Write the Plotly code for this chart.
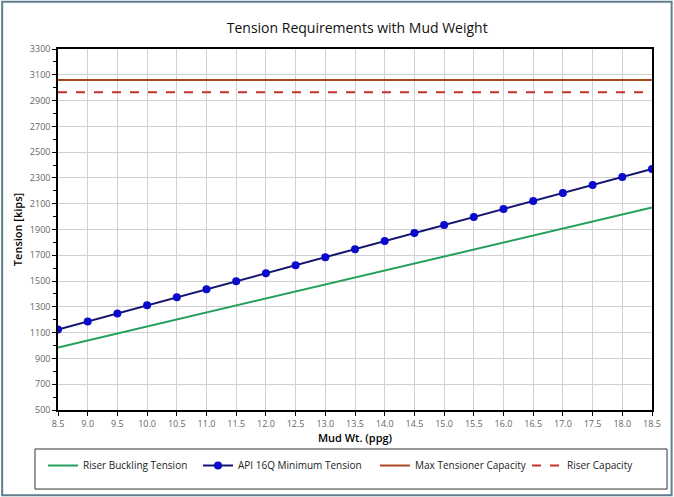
import plotly.graph_objects as go

mud_wt = [8.5, 9.0, 9.5, 10.0, 10.5, 11.0, 11.5, 12.0, 12.5, 13.0, 13.5,
          14.0, 14.5, 15.0, 15.5, 16.0, 16.5, 17.0, 17.5, 18.0, 18.5]
riser_buckling = [985, 1039, 1094, 1148, 1202, 1256, 1311, 1365, 1419, 1473, 1528,
                  1582, 1636, 1690, 1745, 1799, 1853, 1907, 1962, 2016, 2070]
api_16q_min = [1125, 1187, 1249, 1312, 1374, 1436, 1498, 1561, 1623, 1685, 1747,
               1810, 1872, 1934, 1996, 2059, 2121, 2183, 2245, 2308, 2370]
max_tensioner_x = [8.5, 18.5]
max_tensioner = [3060, 3060]
riser_capacity_x = [8.5, 18.5]
riser_capacity = [2965, 2965]

font_main = "Open Sans, Liberation Sans, sans-serif"

fig = go.Figure()
fig.add_trace(go.Scatter(x=mud_wt, y=riser_buckling, mode="lines",
                         name="Riser Buckling Tension", legend="legend",
                         line=dict(color="#24a05c", width=2)))
fig.add_trace(go.Scatter(x=mud_wt, y=api_16q_min, mode="lines+markers",
                         name="API 16Q Minimum Tension", legend="legend2",
                         line=dict(color="#14146e", width=2),
                         marker=dict(color="#0a0acc", size=8)))
fig.add_trace(go.Scatter(x=max_tensioner_x, y=max_tensioner, mode="lines",
                         name="Max Tensioner Capacity", legend="legend3",
                         line=dict(color="#a8461c", width=2)))
fig.add_trace(go.Scatter(x=riser_capacity_x, y=riser_capacity, mode="lines",
                         name="Riser Capacity", legend="legend4",
                         line=dict(color="#c8322a", width=2, dash="dash")))

leg_common = dict(orientation="h", xanchor="left", y=-0.1136, yanchor="top",
                  font=dict(size=10, color="#222"), bgcolor="rgba(0,0,0,0)",
                  itemwidth=30)

fig.update_layout(
    width=674, height=497,
    margin=dict(l=58, r=22, t=49, b=87),
    paper_bgcolor="white", plot_bgcolor="white",
    font=dict(family=font_main, color="#222"),
    title=dict(text="Tension Requirements with Mud Weight",
               x=0.53, xanchor="center", y=0.943, yanchor="middle",
               font=dict(size=14, color="#111")),
    showlegend=True,
    legend=dict(x=-0.0253, **leg_common),
    legend2=dict(x=0.2357, **leg_common),
    legend3=dict(x=0.5337, **leg_common),
    legend4=dict(x=0.7896, **leg_common),
    shapes=[
        dict(type="rect", xref="paper", yref="paper",
             x0=-0.0387, x1=1.0253, y0=-0.219, y1=-0.108,
             line=dict(color="#333", width=1)),
        dict(type="rect", xref="paper", yref="paper",
             x0=-0.094, x1=1.033, y0=-0.236, y1=1.131,
             line=dict(color="#5f7f8f", width=2)),
    ],
)

fig.update_xaxes(
    range=[8.5, 18.5], tickmode="linear", tick0=8.5, dtick=0.5, tickformat=".1f",
    showgrid=True, gridcolor="#d0d0d0", gridwidth=1,
    showline=True, linecolor="black", linewidth=1.5, mirror=True,
    ticks="outside", ticklen=4, tickcolor="black",
    tickfont=dict(size=9, color="#666"), automargin=False,
    title=dict(text="Mud Wt. (ppg)", font=dict(size=11, color="#000", weight=600), standoff=6),
    zeroline=False,
)
fig.update_yaxes(
    range=[500, 3300], tickmode="linear", tick0=500, dtick=200,
    showgrid=True, gridcolor="#d0d0d0", gridwidth=1,
    showline=True, linecolor="black", linewidth=1.5, mirror=True,
    ticks="outside", ticklen=4, tickcolor="black",
    minor=dict(dtick=100, tick0=500, ticks="outside", ticklen=3, tickcolor="black", showgrid=False),
    tickfont=dict(size=9, color="#666"), automargin=False,
    title=dict(text="Tension [kips]", font=dict(size=11, color="#000", weight=600), standoff=5),
    zeroline=False,
)

fig.write_html("out.html")
